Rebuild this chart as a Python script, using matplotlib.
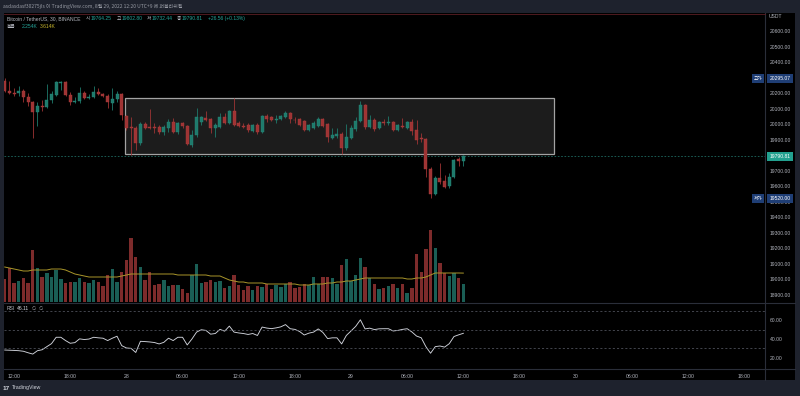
import numpy as np
import pandas as pd
import matplotlib
matplotlib.use('Agg')
import matplotlib.pyplot as plt
import matplotlib.transforms as mtransforms
from matplotlib.patches import Rectangle
from matplotlib.lines import Line2D

plt.rcParams['font.family'] = ['Liberation Sans', 'DejaVu Sans']
KR = ['Noto Sans CJK KR', 'DejaVu Sans']

# --- данные: BTC/USDT, 30 мин, BINANCE ---
t0 = pd.Timestamp('2022-08-27 11:00')
times = pd.date_range(t0, periods=99, freq='30min')

opens = [20277, 20213, 20200, 20200, 20213, 20174, 20142, 20077, 20116, 20110,
         20155, 20187, 20265, 20271, 20187, 20142, 20148, 20200, 20168, 20174,
         20206, 20194, 20181, 20135, 20161, 20194, 20052, 19981, 19974, 19877,
         20000, 19981, 19981, 19981, 19948, 19974, 20013, 19948, 20006, 19987,
         19865, 19929, 20013, 20039, 20032, 19974, 19981, 20045, 20006, 20084,
         20006, 19987, 19994, 19955, 19994, 19948, 20052, 20045, 20026, 20032,
         20045, 20071, 20029, 20032, 20019, 19961, 19974, 19987, 20032, 20000,
         19910, 19923, 19935, 19845, 19910, 19968, 20019, 20123, 19981, 20026,
         19974, 20013, 20006, 20013, 19961, 19990, 19974, 20013, 19961, 19910,
         19903, 19710, 19548, 19652, 19632, 19600, 19658, 19774, 19764.25]
highs = [20295.07, 20277, 20232, 20245, 20226, 20200, 20148, 20142, 20155, 20258,
         20213, 20277, 20277, 20277, 20206, 20174, 20239, 20213, 20194, 20245,
         20232, 20200, 20194, 20232, 20213, 20200, 20058, 20045, 19987, 20013,
         20013, 20097, 20006, 19994, 19994, 20032, 20039, 20013, 20013, 19994,
         19961, 20103, 20052, 20084, 20039, 20006, 20071, 20071, 20090, 20168,
         20019, 20006, 20006, 20000, 20006, 20058, 20065, 20052, 20058, 20058,
         20084, 20077, 20045, 20039, 20026, 20000, 20019, 20045, 20039, 20006,
         19974, 19974, 19948, 20000, 19994, 20045, 20148, 20129, 20058, 20039,
         20019, 20032, 20052, 20019, 20000, 20039, 20019, 20032, 20026, 19942,
         19910, 19723, 19665, 19748, 19671, 19684, 19774, 19787, 19802.80]
lows = [20206, 20194, 20181, 20181, 20142, 20116, 19910, 19987, 20084, 20103,
        20135, 20181, 20219, 20181, 20123, 20135, 20135, 20161, 20161, 20168,
        20187, 20174, 20103, 20090, 20142, 20026, 19961, 19800, 19832, 19865,
        19968, 19968, 19942, 19935, 19929, 19948, 19942, 19935, 19974, 19865,
        19852, 19916, 19994, 20019, 19942, 19916, 19974, 20000, 20000, 19987,
        19981, 19974, 19948, 19948, 19935, 19942, 20013, 20019, 20006, 20026,
        20039, 20006, 20006, 19987, 19955, 19955, 19968, 19981, 19981, 19884,
        19903, 19910, 19806, 19832, 19903, 19955, 20013, 19968, 19974, 19955,
        19968, 19994, 19994, 19955, 19955, 19974, 19968, 19929, 19871, 19884,
        19658, 19520, 19542, 19613, 19587, 19587, 19652, 19729, 19732.44]
closes = [20213, 20200, 20197, 20213, 20174, 20142, 20077, 20116, 20110, 20155,
          20194, 20271, 20271, 20187, 20142, 20148, 20200, 20168, 20174, 20206,
          20194, 20181, 20142, 20161, 20194, 20058, 19974, 19974, 19877, 20000,
          19974, 19974, 19974, 19948, 19981, 20013, 19948, 20006, 19987, 19871,
          19929, 20045, 20045, 20026, 19974, 19994, 20045, 20006, 20084, 19994,
          19987, 19984, 19961, 19994, 19948, 20052, 20032, 20026, 20032, 20052,
          20071, 20032, 20023, 19994, 19961, 19994, 20006, 20032, 19987, 19916,
          19929, 19935, 19845, 19916, 19974, 20019, 20123, 19981, 20026, 19968,
          20013, 20006, 20013, 19961, 19994, 19984, 20013, 19955, 19897, 19903,
          19710, 19548, 19652, 19626, 19594, 19658, 19768, 19764.25, 19790.81]

volume = [2875, 4250, 2375, 2625, 3000, 2375, 6500, 4250, 3125, 3625,
          3125, 4000, 2875, 2375, 2500, 2500, 3000, 2500, 2375, 2750,
          2500, 2000, 3375, 4125, 2500, 3750, 5250, 8000, 5625, 4375,
          2750, 3750, 2125, 2250, 2750, 2000, 2125, 2125, 1625, 1125,
          3375, 4750, 2375, 2500, 2750, 2500, 2625, 1750, 2000, 3375,
          2125, 1500, 2000, 1500, 2000, 1875, 2250, 1625, 2125, 1875,
          2250, 2500, 1750, 1875, 2250, 2125, 3125, 2250, 3125, 3125,
          3000, 2250, 4625, 5375, 2625, 3375, 5500, 4375, 3000, 2250,
          1625, 1750, 2000, 2250, 1750, 2250, 1125, 1750, 6000, 3750,
          6625, 9000, 6750, 4875, 3625, 3250, 3625, 3000, 2254]
volume_ma = [4375, 4250, 4125, 4000, 3875, 3875, 4000, 4000, 4000, 4000,
             4125, 4125, 4125, 4000, 3750, 3500, 3375, 3250, 3125, 3125,
             3125, 3125, 3125, 3125, 3125, 3250, 3375, 3500, 3500, 3500,
             3500, 3500, 3500, 3500, 3500, 3500, 3500, 3375, 3375, 3375,
             3375, 3375, 3375, 3375, 3250, 3250, 3250, 3000, 2750, 2625,
             2500, 2500, 2375, 2375, 2375, 2375, 2250, 2250, 2250, 2250,
             2250, 2250, 2250, 2125, 2125, 2125, 2250, 2250, 2250, 2375,
             2375, 2500, 2500, 2625, 2625, 2750, 2875, 3000, 3000, 3000,
             3000, 3000, 3000, 3000, 3000, 3000, 2875, 2875, 3000, 3000,
             3125, 3375, 3625, 3625, 3625, 3625, 3625, 3625, 3614]
rsi = [28.3, 28.1, 27.9, 27.6, 27.0, 25.4, 24.0, 27.6, 28.6, 31.9,
       35.1, 41.9, 41.9, 38.4, 35.5, 36.2, 40.2, 39.5, 40.0, 41.9,
       41.3, 40.9, 38.4, 40.9, 43.0, 33.0, 30.5, 30.1, 25.7, 37.6,
       37.3, 36.9, 36.3, 34.8, 36.5, 40.9, 38.4, 41.9, 41.9, 33.7,
       40.0, 47.4, 49.9, 49.2, 45.2, 45.9, 50.3, 48.4, 53.8, 47.4,
       46.5, 45.9, 44.9, 45.9, 43.8, 52.8, 51.7, 51.1, 51.9, 53.0,
       55.4, 51.0, 50.3, 48.1, 44.3, 46.3, 47.4, 50.8, 47.0, 40.5,
       41.3, 41.3, 34.8, 43.8, 48.6, 53.5, 60.5, 50.8, 51.6, 50.1,
       50.9, 51.0, 51.0, 48.6, 49.2, 50.3, 51.0, 47.6, 43.2, 41.4,
       31.9, 24.9, 31.9, 32.6, 31.4, 35.1, 42.7, 44.5, 46.11]

# нарисованный прямоугольник (диапазон)
box_start = pd.Timestamp('2022-08-27 23:54')
box_end = pd.Timestamp('2022-08-29 21:42')
box_low, box_high = 19806, 20165

price_ticks = list(range(18900, 20601, 100))
rsi_ticks = [20, 40, 60]
tick_times = pd.date_range('2022-08-27 12:00', '2022-08-30 18:00', freq='6h')

# --- цвета ---
BG_FRAME = '#1e222d'
UP, DOWN = '#1f7a6c', '#9e3434'
VUP, VDOWN = '#1a5e55', '#7d2b2b'
TXT = '#b2b5be'
SEP = '#2a2e39'

W, H = 800, 396
fig = plt.figure(figsize=(8, 3.96), dpi=100, facecolor=BG_FRAME)


def fx(px):
    return px / W


def fy(py):
    return 1 - py / H


fig.add_artist(Rectangle((fx(4), fy(380)), fx(791), (380 - 13) / H,
                         transform=fig.transFigure, facecolor='black', zorder=0))

step = pd.Timedelta('30min')
x = np.asarray((times - t0) / step, dtype=float)
o, h, l, c = map(np.asarray, (opens, highs, lows, closes))
up = c >= o
xmin, xmax = -0.15, 162.46

# --- основная панель ---
ax = fig.add_axes([fx(4), fy(302), fx(761), 288 / H])
axv = ax.twinx()
ax.set_zorder(axv.get_zorder() + 1)
ax.patch.set_visible(False)
axv.set_facecolor('black')

axv.bar(x, volume, width=0.72, color=np.where(up, VUP, VDOWN), zorder=2)
axv.plot(x, volume_ma, color='#a9962a', lw=0.7, zorder=3)
axv.set_ylim(0, 36000)
axv.set_yticks([])

bx0 = (box_start - t0) / step
bx1 = (box_end - t0) / step
ax.add_patch(Rectangle((bx0, box_low), bx1 - bx0, box_high - box_low,
                       facecolor='#1c1c1c', edgecolor='#a3a3a3', lw=0.9, zorder=1))

ax.vlines(x, l, h, colors=np.where(up, UP, DOWN), lw=0.6, zorder=3)
body_lo = np.minimum(o, c)
body_h = np.maximum(np.abs(c - o), 3)
ax.bar(x, body_h, bottom=body_lo, width=0.64, color=np.where(up, UP, DOWN),
       edgecolor=np.where(up, '#26897a', '#b03c3c'), linewidth=0.3, zorder=4)

ax.axhline(c[-1], color='#1f6b62', lw=0.6, ls=(0, (2, 2)), zorder=2)

ax.set_xlim(xmin, xmax)
axv.set_xlim(xmin, xmax)
ax.set_ylim(18852, 20710)
ax.yaxis.tick_right()
ax.set_yticks(price_ticks, [f'{t:.2f}' for t in price_ticks])
ax.tick_params(axis='y', length=0, pad=3.2, labelsize=3.6, labelcolor=TXT)
ax.set_xticks([])
for a in (ax, axv):
    for s in a.spines.values():
        s.set_visible(False)

blend = mtransforms.blended_transform_factory(ax.transAxes, ax.transData)
xr = (769.5 - 4) / 761
xl = (762 - 4) / 761
for price, lab, name, col in [(highs[0], f'{highs[0]:.2f}', '고가', '#1f3e75'),
                              (min(lows), f'{min(lows):.2f}', '저가', '#1f3e75'),
                              (closes[-1], f'{closes[-1]:.2f}', None, '#22a08f')]:
    ax.text(xr, price, lab, transform=blend, ha='left', va='center', fontsize=3.6,
            color='white', clip_on=False, zorder=8,
            bbox=dict(boxstyle='square,pad=0.45', fc=col, ec='none'))
    if name:
        ax.text(xl, price, name, transform=blend, ha='right', va='center', fontsize=3.3,
                color='white', clip_on=False, zorder=8, family=KR,
                bbox=dict(boxstyle='square,pad=0.4', fc=col, ec='none'))

# --- RSI ---
axr = fig.add_axes([fx(4), fy(369), fx(761), 66 / H])
axr.set_facecolor('black')
axr.plot(x, rsi, color='#d1d4dc', lw=0.65)
for lvl in (70, 50, 30):
    axr.axhline(lvl, color='#5d606b', lw=0.5, ls=(0, (3, 3)))
axr.set_xlim(xmin, xmax)
axr.set_ylim(8.1, 78.4)
axr.yaxis.tick_right()
axr.set_yticks(rsi_ticks, [f'{t:.2f}' for t in rsi_ticks])
tick_pos = np.asarray((tick_times - t0) / step, dtype=float)
tick_lab = [str(t.day) if t.hour == 0 else t.strftime('%H:%M') for t in tick_times]
axr.set_xticks(tick_pos, tick_lab)
axr.tick_params(axis='y', length=0, pad=3.2, labelsize=3.6, labelcolor=TXT)
axr.tick_params(axis='x', length=0, pad=3.4, labelsize=3.7, labelcolor=TXT)
for s in axr.spines.values():
    s.set_visible(False)

# --- разделители ---
for y in (302.5, 369):
    fig.add_artist(Line2D([fx(4), fx(795)], [fy(y), fy(y)], color=SEP, lw=0.8))
fig.add_artist(Line2D([fx(765), fx(765)], [fy(13), fy(380)], color=SEP, lw=0.8))
fig.add_artist(Line2D([fx(4), fx(765)], [fy(13.5), fy(13.5)], color='#5c1f24', lw=0.6))

# --- тексты ---
fig.text(fx(3), fy(6.5), 'asdasdasf30275jls 이 TradingView.com, 8월 29, 2022 12:20 UTC+9 에 퍼블리쉬됨',
         fontsize=3.6, color='#9598a1', va='center', family=KR)
fig.text(fx(769), fy(17), 'USDT', fontsize=3.6, color=TXT, va='center')

GREEN_T = '#26a69a'
fig.text(fx(7), fy(18.5), 'Bitcoin / TetherUS, 30, BINANCE', fontsize=3.6, color=TXT, va='center')
legend_parts = [(86, '시', f'{opens[-1]:.2f}'), (117, '고', f'{highs[-1]:.2f}'),
                (147, '저', f'{lows[-1]:.2f}'), (177, '종', f'{closes[-1]:.2f}')]
for px, k, v in legend_parts:
    fig.text(fx(px), fy(18.5), k, fontsize=3.4, color=TXT, va='center', family=KR)
    fig.text(fx(px + 5), fy(18.5), v, fontsize=3.6, color=GREEN_T, va='center')
fig.text(fx(208), fy(18.5), '+26.56 (+0.13%)', fontsize=3.6, color=GREEN_T, va='center')
fig.text(fx(7), fy(26), '볼륨', fontsize=3.4, color=TXT, va='center', family=KR)
fig.text(fx(22), fy(26), f'{volume[-1] / 1000:.3f}K', fontsize=3.6, color=GREEN_T, va='center')
fig.text(fx(40), fy(26), f'{volume_ma[-1] / 1000:.3f}K', fontsize=3.6, color='#c8b52c', va='center')

fig.text(fx(7), fy(308), 'RSI', fontsize=3.6, color=TXT, va='center')
fig.text(fx(17), fy(308), f'{rsi[-1]:.2f}', fontsize=3.6, color='#d1d4dc', va='center')
fig.text(fx(32), fy(308), '∅  ∅', fontsize=3.4, color=TXT, va='center',
         family=['DejaVu Sans'])

fig.text(fx(3), fy(388), '17', fontsize=4.6, color='#d1d4dc', va='center', weight='bold')
fig.text(fx(12), fy(388), 'TradingView', fontsize=3.8, color='#d1d4dc', va='center')

fig.savefig('out.png', dpi=100, facecolor=BG_FRAME)
plt.close(fig)
